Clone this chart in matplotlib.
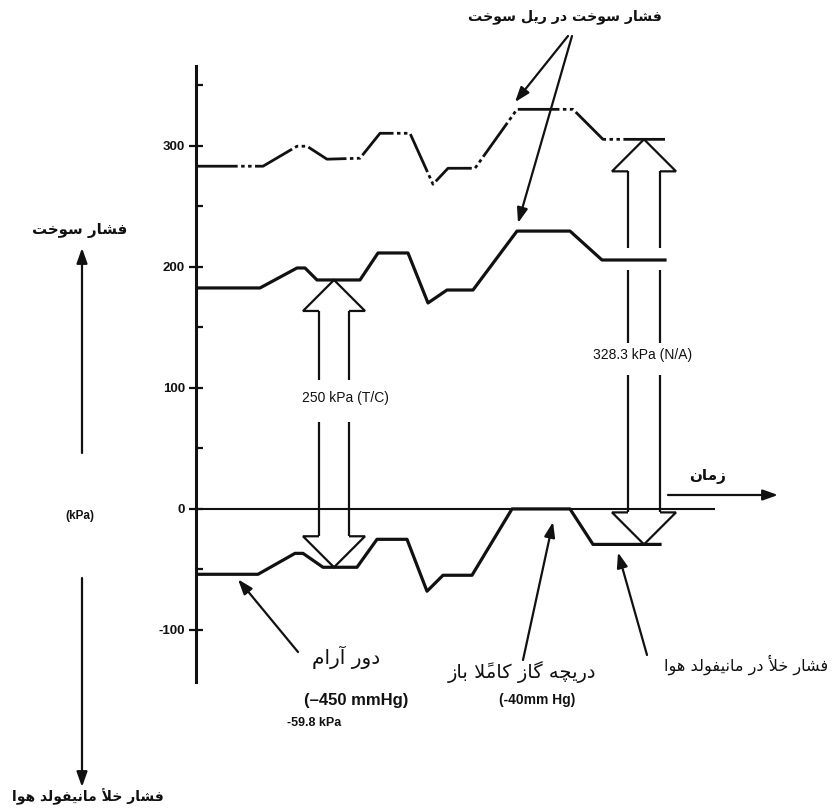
import numpy as np
import matplotlib
matplotlib.use('Agg')
import matplotlib.pyplot as plt

plt.rcParams['lines.scale_dashes'] = False

# ---------------- data (kPa vs. time, arbitrary units) ----------------
time_rail = [0, 67, 101, 111, 131, 164, 184, 214, 237, 252, 279, 321, 377, 407, 469]
rail_pressure_na = [283.2, 283.2, 299.7, 299.7, 289.0, 289.8, 310.4, 310.4, 268.3,
                    281.5, 281.5, 330.2, 330.2, 305.4, 305.4]
time_fuel = [0, 64, 101, 109, 121, 164, 182, 212, 232, 251, 277, 321, 374, 406, 469]
fuel_pressure_tc = [182.6, 182.6, 199.1, 199.1, 189.2, 189.2, 211.5, 211.5, 170.2,
                    180.9, 180.9, 229.6, 229.6, 205.7, 205.7]
time_vac = [0, 62, 99, 107, 127, 161, 181, 211, 231, 247, 276, 316, 374, 397, 464]
manifold_vacuum = [-54.0, -54.0, -36.7, -36.7, -48.2, -48.2, -25.1, -25.1, -68.0,
                   -54.8, -54.8, 0.0, 0.0, -29.3, -29.3]
zero_line_end = 519
y_ticks_major = [-100, 0, 100, 200, 300]
y_tick_labels = ['-100', '0', '100', '200', '300']
y_ticks_minor = [-50, 50, 150, 250, 350]
tc_arrow_time = 138
na_arrow_time = 448
tc_label = '250 kPa (T/C)'
na_label = '328.3 kPa (N/A)'

title_rail = 'فشار سوخت در ریل سوخت'
label_fuel = 'فشار سوخت'
label_vac = 'فشار خلأ مانیفولد هوا'
label_time = 'زمان'
label_idle = 'دور آرام'
label_wot = 'دریچه گاز کاملاً باز'
label_manifold = 'فشار خلأ در مانیفولد هوا'

# ---------------- minimal Arabic-script shaping (no external libs) ----------------
DUAL = {
    '\u0628': ('\uFE8F', '\uFE90', '\uFE91', '\uFE92'),
    '\u062A': ('\uFE95', '\uFE96', '\uFE97', '\uFE98'),
    '\u0686': ('\uFB7A', '\uFB7B', '\uFB7C', '\uFB7D'),
    '\u062E': ('\uFEA5', '\uFEA6', '\uFEA7', '\uFEA8'),
    '\u0633': ('\uFEB1', '\uFEB2', '\uFEB3', '\uFEB4'),
    '\u0634': ('\uFEB5', '\uFEB6', '\uFEB7', '\uFEB8'),
    '\u0641': ('\uFED1', '\uFED2', '\uFED3', '\uFED4'),
    '\u06A9': ('\uFB8E', '\uFB8F', '\uFB90', '\uFB91'),
    '\u06AF': ('\uFB92', '\uFB93', '\uFB94', '\uFB95'),
    '\u0644': ('\uFEDD', '\uFEDE', '\uFEDF', '\uFEE0'),
    '\u0645': ('\uFEE1', '\uFEE2', '\uFEE3', '\uFEE4'),
    '\u0646': ('\uFEE5', '\uFEE6', '\uFEE7', '\uFEE8'),
    '\u0647': ('\uFEE9', '\uFEEA', '\uFEEB', '\uFEEC'),
    '\u06CC': ('\uFBFC', '\uFBFD', '\uFBFE', '\uFBFF'),
}
RIGHT = {
    '\u0627': ('\uFE8D', '\uFE8E'),
    '\u0622': ('\uFE81', '\uFE82'),
    '\u0623': ('\uFE83', '\uFE84'),
    '\u062F': ('\uFEA9', '\uFEAA'),
    '\u0631': ('\uFEAD', '\uFEAE'),
    '\u0632': ('\uFEAF', '\uFEB0'),
    '\u0648': ('\uFEED', '\uFEEE'),
}
LAMALEF = {'\u0627': ('\uFEFB', '\uFEFC'), '\u0623': ('\uFEF7', '\uFEF8'),
           '\u0622': ('\uFEF5', '\uFEF6')}
MARKS = {'\u064B'}


def shape(s):
    chars = list(s)
    n = len(chars)

    def nb(i, step):
        j = i + step
        while 0 <= j < n and chars[j] in MARKS:
            j += step
        return j if 0 <= j < n else None

    clusters = []
    i = 0
    while i < n:
        c = chars[i]
        if c in MARKS:
            if clusters:
                clusters[-1] += c
            else:
                clusters.append(c)
            i += 1
            continue
        p = nb(i, -1)
        jp = (c in DUAL or c in RIGHT) and p is not None and chars[p] in DUAL
        nx = nb(i, 1)
        if c == '\u0644' and nx is not None and chars[nx] in LAMALEF:
            clusters.append(LAMALEF[chars[nx]][1 if jp else 0])
            i = nx + 1
            continue
        jn = c in DUAL and nx is not None and (chars[nx] in DUAL or chars[nx] in RIGHT)
        if c in DUAL:
            iso, fin, ini, med = DUAL[c]
            g = med if (jp and jn) else fin if jp else ini if jn else iso
        elif c in RIGHT:
            g = RIGHT[c][1] if jp else RIGHT[c][0]
        else:
            g = c
        clusters.append(g)
        i += 1
    return ''.join(clusters[::-1])


# ---------------- figure ----------------
W, H = 836, 810
fig = plt.figure(figsize=(W / 100, H / 100), dpi=100)
fig.patch.set_facecolor('white')
ov = fig.add_axes([0, 0, 1, 1], zorder=0)
ov.set_xlim(0, W)
ov.set_ylim(H, 0)
ov.axis('off')

ax = fig.add_axes([196 / W, 1 - 682 / H, 600 / W, 616 / H], zorder=1)
ax.patch.set_alpha(0)
ax.set_xlim(0, 600)
ax.set_ylim(-143, 366)
for s in ('top', 'right', 'bottom'):
    ax.spines[s].set_visible(False)
ax.spines['left'].set_linewidth(2.2)
ax.spines['left'].set_color('#111111')
ax.set_xticks([])
ax.set_yticks(y_ticks_major)
ax.set_yticklabels(y_tick_labels)
ax.set_yticks(y_ticks_minor, minor=True)
ax.tick_params(axis='y', which='major', direction='inout', length=10, width=1.6,
               pad=3, labelsize=9.5, colors='#111111')
ax.tick_params(axis='y', which='minor', direction='in', length=5, width=1.6,
               colors='#111111')
for t in ax.get_yticklabels():
    t.set_fontfamily('Liberation Sans')
    t.set_fontweight('bold')

INK = '#111111'
ax.hlines(0, 0, zero_line_end, color=INK, lw=1.5)
ax.plot(time_fuel, fuel_pressure_tc, color=INK, lw=2.3, solid_joinstyle='round')
ax.plot(time_vac, manifold_vacuum, color=INK, lw=2.3, solid_joinstyle='round')
line_na, = ax.plot(time_rail, rail_pressure_na, color=INK, lw=2.0,
                   dash_capstyle='butt', dash_joinstyle='round')
line_na.set_dashes([30, 2.5, 2.5, 2.5, 2.5, 2.5])


def to_px(x, y):
    d = ax.transData.transform((x, y))
    return ov.transData.inverted().transform(d)


def hollow_arrow(t, y_top, y_bot, hw, hh, hl, gaps, lw=1.6):
    cx, ty = to_px(t, y_top)
    _, by = to_px(t, y_bot)
    kw = dict(color=INK, lw=lw, solid_joinstyle='miter', solid_capstyle='butt')
    xs = [cx - hw, cx - hh, cx, cx + hh, cx + hw]
    ov.plot(xs, [ty + hl, ty + hl, ty, ty + hl, ty + hl], **kw)
    ov.plot(xs, [by - hl, by - hl, by, by - hl, by - hl], **kw)
    edges = [ty + hl] + [g for gap in gaps for g in gap] + [by - hl]
    for a, b in zip(edges[0::2], edges[1::2]):
        for sx in (cx - hw, cx + hw):
            ov.plot([sx, sx], [a, b], **kw)
    return cx


tc_top = np.interp(tc_arrow_time, time_fuel, fuel_pressure_tc)
tc_bot = np.interp(tc_arrow_time, time_vac, manifold_vacuum)
na_top = np.interp(na_arrow_time, time_rail, rail_pressure_na)
na_bot = np.interp(na_arrow_time, time_vac, manifold_vacuum)
hollow_arrow(tc_arrow_time, tc_top, tc_bot, 15, 31, 31, [(380, 422)])
hollow_arrow(na_arrow_time, na_top, na_bot, 16, 32, 32, [(248, 270), (343, 375)])

LATIN = 'Liberation Sans'
ov.text(302, 398, tc_label, fontsize=10, family=LATIN, ha='left', va='center', color=INK)
ov.text(643, 355, na_label, fontsize=10, family=LATIN, ha='center', va='center', color=INK)

AP = dict(arrowstyle='-|>,head_length=0.9,head_width=0.32', color=INK, lw=1.6,
          shrinkA=0, shrinkB=0)


def pointer(tail, t, series_t, series_y, dy):
    x, y = to_px(t, np.interp(t, series_t, series_y))
    ov.annotate('', xy=(x, y + dy), xytext=tail, arrowprops=AP)


pointer((298, 652), 42, time_vac, manifold_vacuum, 5)
pointer((523, 660), 357, time_vac, manifold_vacuum, 13)
pointer((647, 655), 422, time_vac, manifold_vacuum, 8)
pointer((568, 36), 319, time_rail, rail_pressure_na, -10)
pointer((572, 36), 322, time_fuel, fuel_pressure_tc, -8)

ov.annotate('', xy=(82, 248), xytext=(82, 453), arrowprops=AP)
ov.annotate('', xy=(82, 787), xytext=(82, 578), arrowprops=AP)
ov.annotate('', xy=(778, 495), xytext=(668, 495), arrowprops=AP)

FA = 'DejaVu Sans'
ov.text(565, 17, shape(title_rail), fontsize=10.2, family=FA, weight='bold',
        ha='center', va='center', color=INK)
ov.text(80, 231, shape(label_fuel), fontsize=10.8, family=FA, weight='bold',
        ha='center', va='center', color=INK)
ov.text(88, 797, shape(label_vac), fontsize=10, family=FA, weight='bold',
        ha='center', va='center', color=INK)
ov.text(708, 477, shape(label_time), fontsize=11, family=FA, weight='bold',
        ha='center', va='center', color=INK)
ov.text(346, 657, shape(label_idle), fontsize=14.5, family=FA,
        ha='center', va='center', color=INK)
ov.text(522, 672, shape(label_wot), fontsize=14, family=FA,
        ha='center', va='center', color=INK)
ov.text(746, 665, shape(label_manifold), fontsize=11.6, family=FA,
        ha='center', va='center', color=INK)

ov.text(80, 516, '(kPa)', fontsize=8.5, family=LATIN, weight='bold',
        ha='center', va='center', color=INK)
ov.text(356, 700, '(\u2013450 mmHg)', fontsize=12, family=LATIN, weight='bold',
        ha='center', va='center', color=INK)
ov.text(287, 723, '-59.8 kPa', fontsize=9, family=LATIN, weight='bold',
        ha='left', va='center', color=INK)
ov.text(537, 700, '(-40mm Hg)', fontsize=10, family=LATIN, weight='bold',
        ha='center', va='center', color=INK)

fig.savefig('out.png', dpi=100, facecolor='white')
